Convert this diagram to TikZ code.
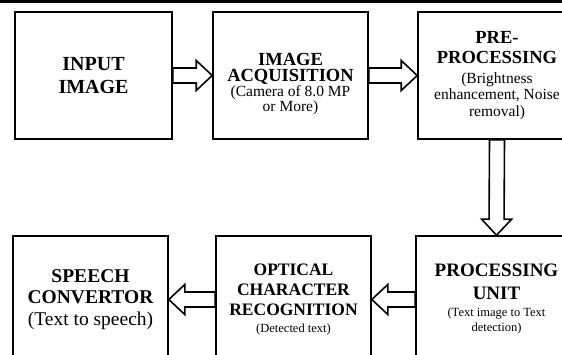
\documentclass[tikz,border=0pt]{standalone}
\usepackage{fontspec}
\setmainfont{Liberation Serif}
\usetikzlibrary{calc}

\begin{document}
\begin{tikzpicture}[x=1pt, y=-1pt, thick]
  \tikzset{
    box/.style={draw, rectangle, line width=1.6pt, minimum width=157pt,
      minimum height=127pt, inner sep=0pt, align=center,
      font={\fontsize{18}{10}\selectfont\lineskiplimit=-30pt\lineskip=0pt}},
    % hollow block arrow between two anchors
    fatarrow/.style={draw, line width=1.6pt, fill=white,
      to path={
        ($(\tikztostart)!7.5pt!90:(\tikztotarget)$)
        -- ($($(\tikztotarget)!16pt!(\tikztostart)$)!7.5pt!-90:(\tikztostart)$)
        -- ($($(\tikztotarget)!16pt!(\tikztostart)$)!15pt!-90:(\tikztostart)$)
        -- (\tikztotarget)
        -- ($($(\tikztotarget)!16pt!(\tikztostart)$)!15pt!90:(\tikztostart)$)
        -- ($($(\tikztotarget)!16pt!(\tikztostart)$)!7.5pt!90:(\tikztostart)$)
        -- ($(\tikztostart)!7.5pt!-90:(\tikztotarget)$)
        -- cycle
      }}
  }

  \useasboundingbox (0,0) rectangle (562,354);
  \clip (0,0) rectangle (562,354);
  \fill (0,0) rectangle (562,3);

  % top row
  \node [box] (input) at (93.5,75.5)
    {{\fontsize{20}{10}\selectfont\bfseries INPUT}\\[13pt]
     {\fontsize{20}{10}\selectfont\bfseries IMAGE}};
  \node [box, minimum width=155pt] (acq) at (290.5,75.5)
    {\rule{0pt}{30pt}{\fontsize{18.5}{10}\selectfont\bfseries IMAGE}\\[6pt]
     {\fontsize{18.5}{10}\selectfont\bfseries ACQUISITION}\\[5pt]
     {\fontsize{15.5}{10}\selectfont (Camera of 8.0 MP}\\[5pt]
     {\fontsize{15.5}{10}\selectfont or More)}};
  \node [box, minimum width=158pt] (pre) at (497,75.5)
    {{\fontsize{18.5}{10}\selectfont\bfseries PRE-}\\[10pt]
     {\fontsize{18.5}{10}\selectfont\bfseries PROCESSING}\\[10pt]
     {\fontsize{15.5}{10}\selectfont (Brightness}\\[6pt]
     {\fontsize{15.5}{10}\selectfont enhancement, Noise}\\[6.5pt]
     {\fontsize{15.5}{10}\selectfont removal)}};

  % bottom row
  \node [box, minimum width=155pt] (speech) at (90.5,299.5)
    {{\fontsize{19.5}{10}\selectfont\bfseries SPEECH}\\[11pt]
     {\fontsize{19.5}{10}\selectfont\bfseries CONVERTOR}\\[12pt]
     {\fontsize{19.5}{10}\selectfont (Text to speech)}};
  \node [box, minimum width=155pt] (ocr) at (293.5,299.5)
    {{\fontsize{17.5}{10}\selectfont\bfseries OPTICAL}\\[10pt]
     {\fontsize{17.5}{10}\selectfont\bfseries CHARACTER}\\[10pt]
     {\fontsize{17.5}{10}\selectfont\bfseries RECOGNITION}\\[7pt]
     {\fontsize{12.5}{10}\selectfont (Detected text)}};
  \node [box, minimum width=161pt] (pu) at (496.5,299.5)
    {{\fontsize{19}{10}\selectfont\bfseries PROCESSING}\\[13pt]
     {\fontsize{19}{10}\selectfont\bfseries UNIT}\\[7pt]
     {\fontsize{12.5}{10}\selectfont (Text image to Text}\\[5pt]
     {\fontsize{12.5}{10}\selectfont detection)}};

  % connectors
  \draw [fatarrow] (input.east) to (acq.west);
  \draw [fatarrow] (acq.east) to (pre.west);
  \draw [fatarrow] (pre.south) to (pu.north);
  \draw [fatarrow] (pu.west) to (ocr.east);
  \draw [fatarrow] (ocr.west) to (speech.east);
\end{tikzpicture}
\end{document}
